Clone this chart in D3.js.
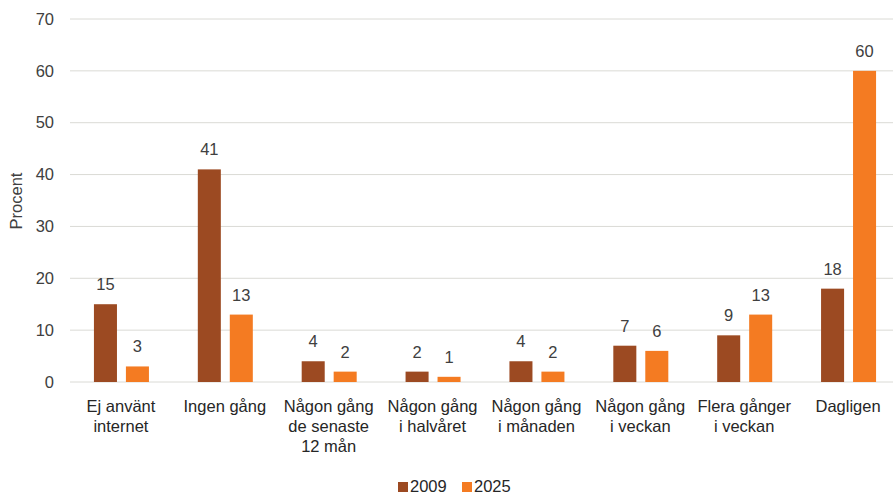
<!DOCTYPE html>
<html><head><meta charset="utf-8">
<script src="https://cdn.jsdelivr.net/npm/d3@7"></script>
<style>body{margin:0;background:#fff}svg{display:block;font-family:"Liberation Sans",Arial,sans-serif}</style>
</head><body><svg id="c" width="893" height="494"></svg>
<script>
const categories = [["Ej använt","internet"],["Ingen gång"],["Någon gång","de senaste","12 mån"],["Någon gång","i halvåret"],["Någon gång","i månaden"],["Någon gång","i veckan"],["Flera gånger","i veckan"],["Dagligen"]];
const series = ["2009","2025"];
const values2009 = [15,41,4,2,4,7,9,18];
const values2025 = [3,13,2,1,2,6,13,60];
const yTicks = [0,10,20,30,40,50,60,70];
const colors = ["#9C4A22","#F47B22"];
const fs = 16.5;

const svg = d3.select("#c");
const x = d3.scaleBand().domain(d3.range(categories.length)).range([69, 900]);
const y = d3.scaleLinear().domain([0,70]).range([382, 19]);
const sub = d3.scaleBand().domain(series).range([-27, 28]).paddingInner(0.28);

svg.append("g").selectAll("line").data(yTicks).join("line")
  .attr("x1",70).attr("x2",893).attr("y1",d=>y(d)).attr("y2",d=>y(d))
  .attr("stroke","#DADAD5").attr("stroke-width",1);
svg.append("g").selectAll("text").data(yTicks).join("text")
  .attr("x",54).attr("y",d=>y(d)).attr("dy","0.35em").attr("text-anchor","end")
  .attr("font-size",fs).attr("fill","#404040").text(d=>d);
svg.append("text").attr("transform","translate(22,201) rotate(-90)").attr("text-anchor","middle")
  .attr("font-size",fs).attr("fill","#404040").text("Procent");

const data = [values2009, values2025];
data.forEach((vals,si)=>{
  const g = svg.append("g");
  g.selectAll("rect").data(vals).join("rect")
    .attr("x",(d,i)=>x(i)+x.bandwidth()/2+sub(series[si]))
    .attr("width",sub.bandwidth())
    .attr("y",d=>y(d)).attr("height",d=>y(0)-y(d))
    .attr("fill",colors[si]);
  g.selectAll("text").data(vals).join("text")
    .attr("x",(d,i)=>x(i)+x.bandwidth()/2+sub(series[si])+sub.bandwidth()/2)
    .attr("y",d=>y(d)-14).attr("text-anchor","middle")
    .attr("font-size",fs).attr("fill","#404040").text(d=>d);
});

const xl = svg.append("g");
categories.forEach((lines,i)=>{
  const t = xl.append("text").attr("text-anchor","middle").attr("font-size",fs).attr("fill","#262626");
  lines.forEach((l,j)=>t.append("tspan").attr("x",x(i)+x.bandwidth()/2).attr("y",412+j*20).text(l));
});

const lg = svg.append("g");
const lx = [398, 462];
series.forEach((s,i)=>{
  lg.append("rect").attr("x",lx[i]).attr("y",482).attr("width",10).attr("height",10).attr("fill",colors[i]);
  lg.append("text").attr("x",lx[i]+12).attr("y",486).attr("dy","0.35em").attr("font-size",fs).attr("fill","#262626").text(s);
});
</script></body></html>
